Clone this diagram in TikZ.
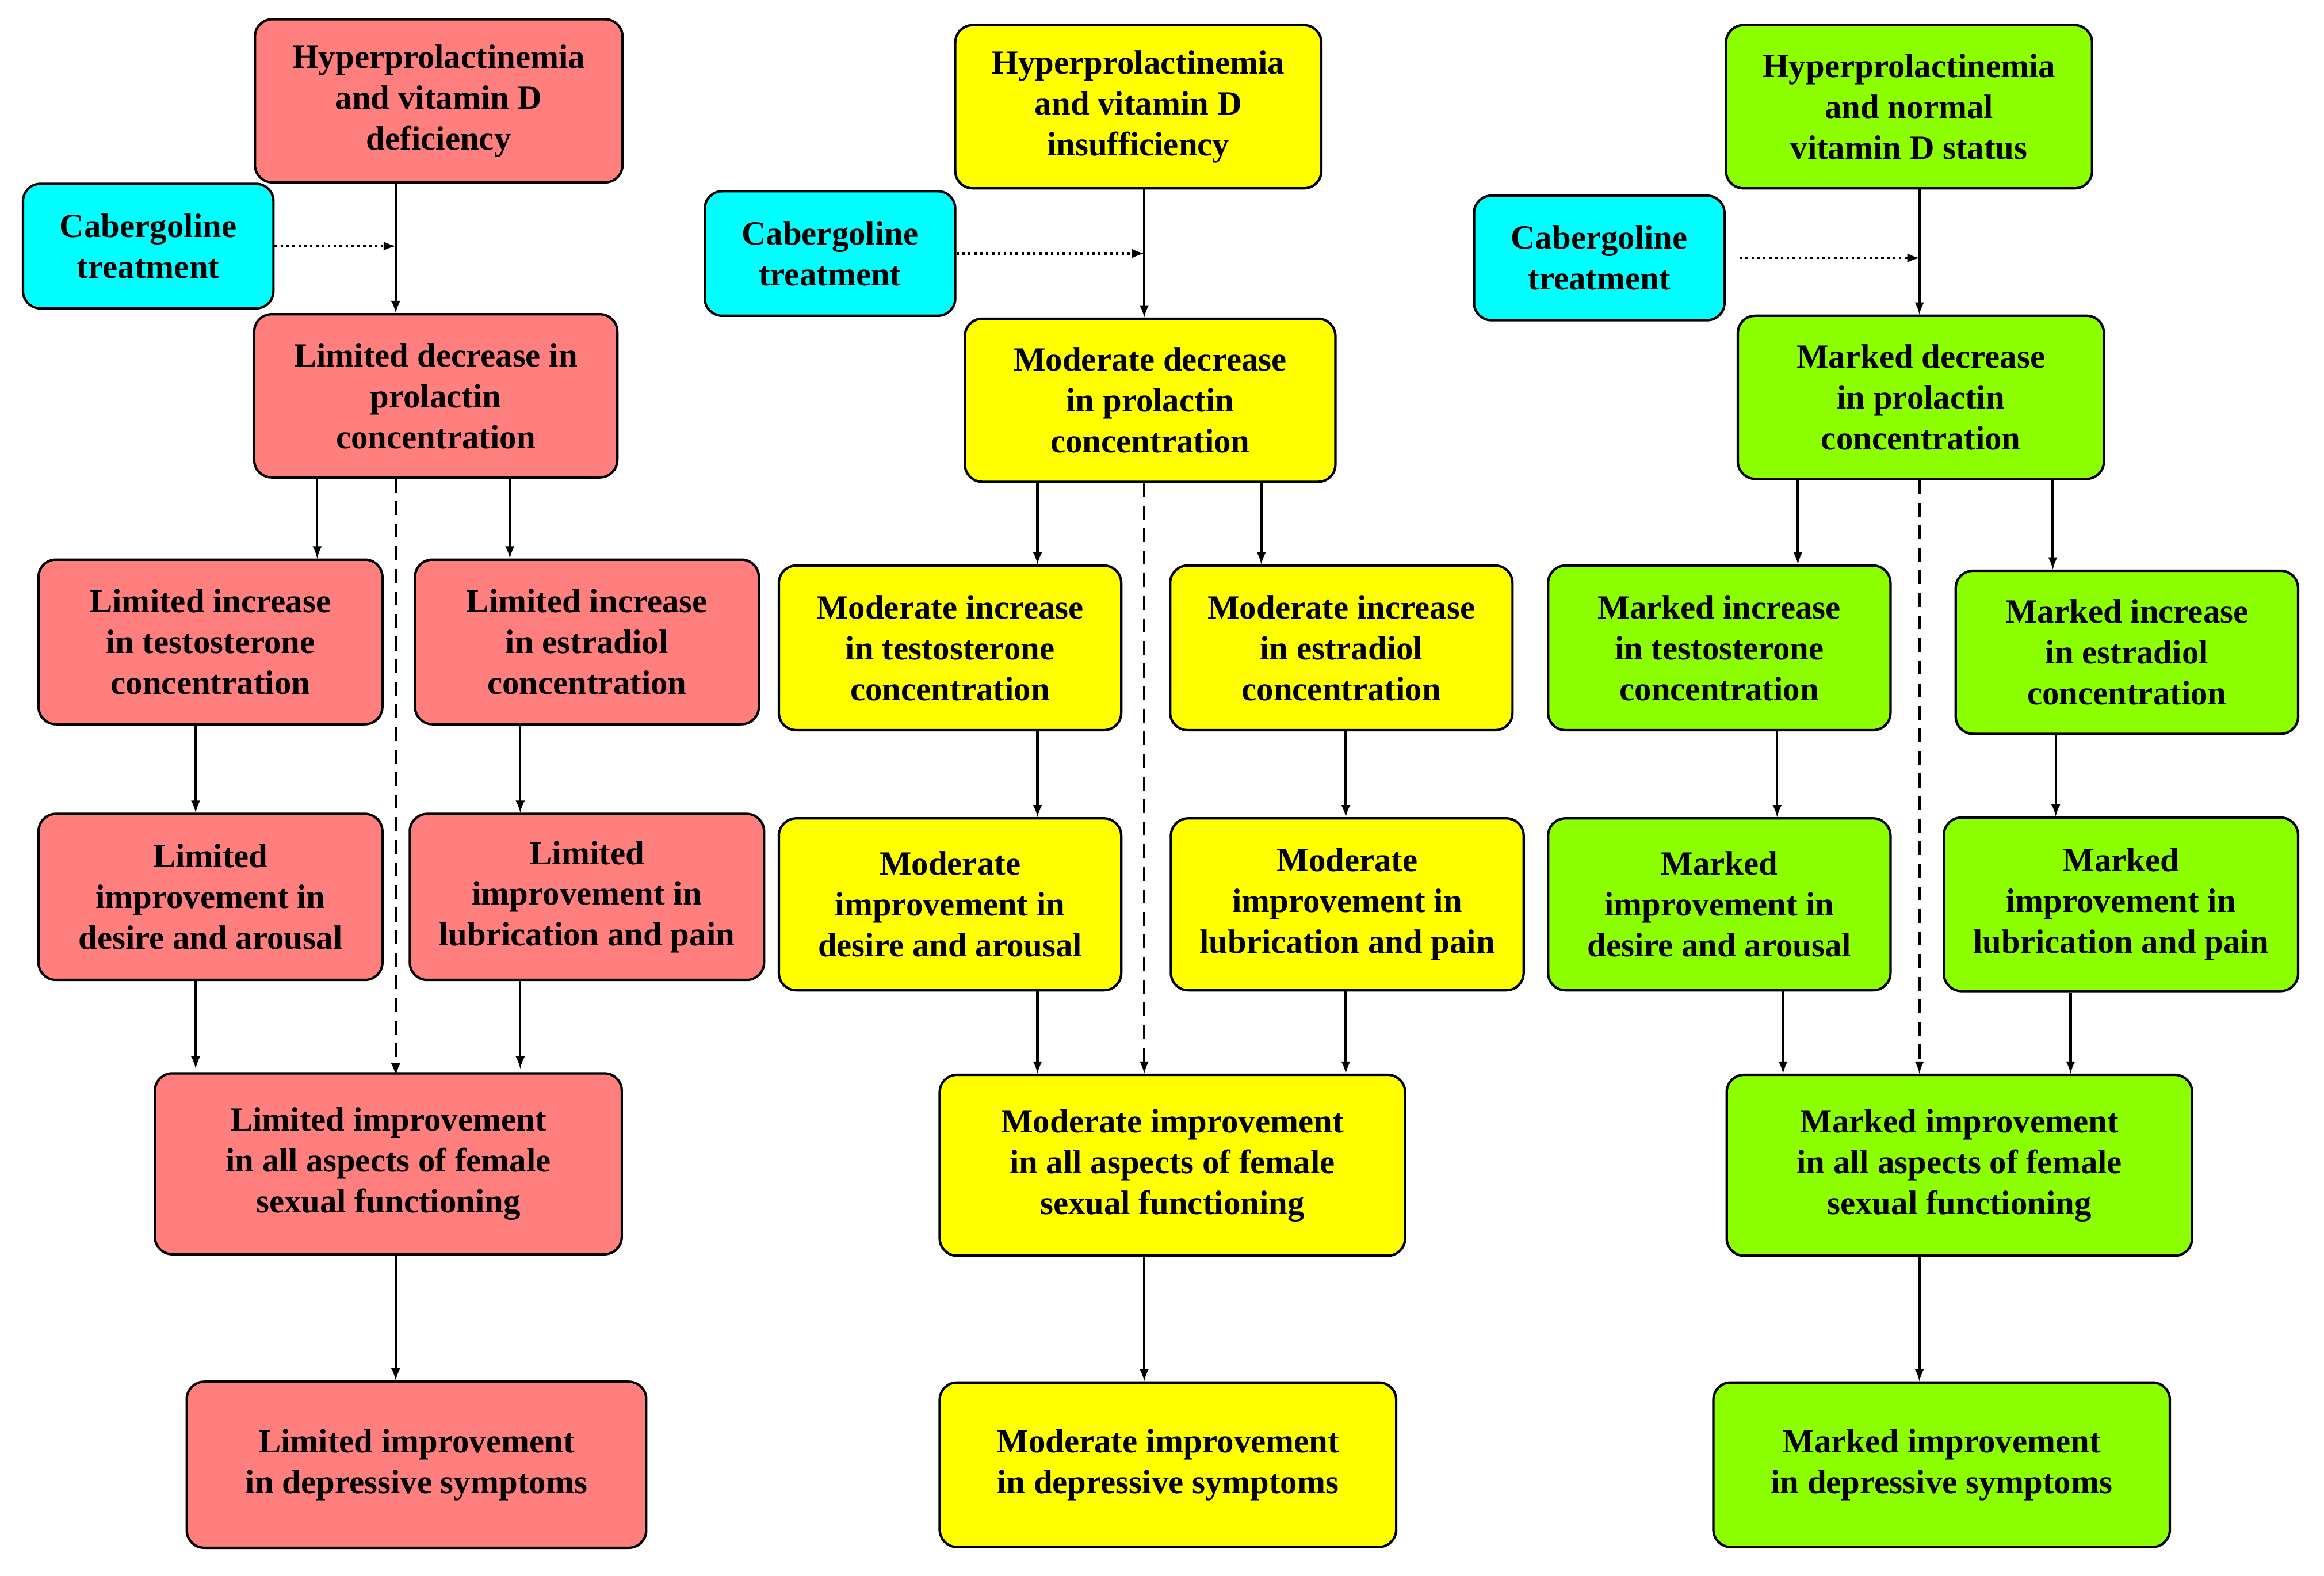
\documentclass[tikz,border=0pt]{standalone}
\usepackage{fontspec}
\setmainfont{Liberation Serif}
\begin{document}
\begin{tikzpicture}[x=0.03cm,y=-0.03cm,
  box/.style={draw=black,line width=1.4pt,rounded corners=10pt,align=center,inner sep=0pt,
    font=\fontsize{19.5}{23.5}\selectfont\bfseries},
  red/.style={box,fill=rd}, yel/.style={box,fill=yl}, grn/.style={box,fill=gn},
  cab/.style={box,fill=cy,minimum width=169*0.03cm,minimum height=84*0.03cm},
  arr/.style={-latex,line width=1.4pt},
  dotarr/.style={-latex,line width=1.4pt,dotted},
  dasharr/.style={-latex,line width=1.4pt,dash pattern=on 8pt off 5pt}]
\definecolor{rd}{HTML}{FF7F7F}\definecolor{yl}{HTML}{FFFF00}
\definecolor{gn}{HTML}{8CFF00}\definecolor{cy}{HTML}{00FFFF}
\useasboundingbox (0,0) rectangle (1568,1063);
\newcommand{\bx}[7]{\node[#1,minimum width=#4*0.03cm,minimum height=#5*0.03cm] (#6) at (#2,#3) {#7};}
% left
\bx{red}{296}{68}{248}{110}{A1}{Hyperprolactinemia\\and vitamin D\\deficiency}
\node[cab] (C1) at (100,166) {Cabergoline\\treatment};
\bx{red}{294}{267}{245}{110}{B1}{Limited decrease in\\prolactin\\concentration}
\bx{red}{142}{433}{232}{111}{T1}{Limited increase\\in testosterone\\concentration}
\bx{red}{396}{433}{232}{111}{E1}{Limited increase\\in estradiol\\concentration}
\bx{red}{142}{605}{232}{112}{D1}{Limited\\improvement in\\desire and arousal}
\bx{red}{396}{605}{239}{112}{L1}{Limited\\improvement in\\lubrication and pain}
\bx{red}{262}{785}{315}{122}{F1}{Limited improvement\\in all aspects of female\\sexual functioning}
\bx{red}{281}{988}{310}{112}{G1}{Limited improvement\\in depressive symptoms}
% middle
\bx{yel}{768}{72}{247}{110}{A2}{Hyperprolactinemia\\and vitamin D\\insufficiency}
\node[cab] (C2) at (560,171) {Cabergoline\\treatment};
\bx{yel}{776}{270}{250}{110}{B2}{Moderate decrease\\in prolactin\\concentration}
\bx{yel}{641}{437}{231}{111}{T2}{Moderate increase\\in testosterone\\concentration}
\bx{yel}{905}{437}{231}{111}{E2}{Moderate increase\\in estradiol\\concentration}
\bx{yel}{641}{610}{231}{116}{D2}{Moderate\\improvement in\\desire and arousal}
\bx{yel}{909}{610}{238}{116}{L2}{Moderate\\improvement in\\lubrication and pain}
\bx{yel}{791}{786}{314}{122}{F2}{Moderate improvement\\in all aspects of female\\sexual functioning}
\bx{yel}{788}{988}{308}{111}{G2}{Moderate improvement\\in depressive symptoms}
% right
\bx{grn}{1288}{72}{247}{110}{A3}{Hyperprolactinemia\\and normal\\vitamin D status}
\node[cab] (C3) at (1079,174) {Cabergoline\\treatment};
\bx{grn}{1296}{268}{247}{110}{B3}{Marked decrease\\in prolactin\\concentration}
\bx{grn}{1160}{437}{231}{111}{T3}{Marked increase\\in testosterone\\concentration}
\bx{grn}{1435}{440}{231}{110}{E3}{Marked increase\\in estradiol\\concentration}
\bx{grn}{1160}{610}{231}{116}{D3}{Marked\\improvement in\\desire and arousal}
\bx{grn}{1431}{610}{239}{117}{L3}{Marked\\improvement in\\lubrication and pain}
\bx{grn}{1322}{786}{314}{122}{F3}{Marked improvement\\in all aspects of female\\sexual functioning}
\bx{grn}{1310}{988}{308}{111}{G3}{Marked improvement\\in depressive symptoms}
% coordinates for arrow x-positions
\foreach \n/\x in {a/267,b/214,c/344,d/132,e/351,
  f/772,g/700,h/851,i/908,
  j/1295,k/1213,l/1385,m/1199,n/1387,o/1203,p/1397}
  \coordinate (x\n) at (\x,0);
% left arrows
\draw[arr] (A1.south -| xa) -- (B1.north -| xa);
\draw[dotarr] (C1.east) -- (C1.east -| xa);
\draw[arr] (B1.south -| xb) -- (T1.north -| xb);
\draw[arr] (B1.south -| xc) -- (E1.north -| xc);
\draw[dasharr] (B1.south -| xa) -- ([yshift=-2pt]F1.north -| xa);
\draw[arr] (T1.south -| xd) -- (D1.north -| xd);
\draw[arr] (E1.south -| xe) -- (L1.north -| xe);
\draw[arr] (D1.south -| xd) -- ([yshift=2pt]F1.north -| xd);
\draw[arr] (L1.south -| xe) -- ([yshift=2pt]F1.north -| xe);
\draw[arr] (F1.south -| xa) -- (G1.north -| xa);
% middle arrows
\draw[arr] (A2.south -| xf) -- (B2.north -| xf);
\draw[dotarr] (C2.east) -- (C2.east -| xf);
\draw[arr] (B2.south -| xg) -- (T2.north -| xg);
\draw[arr] (B2.south -| xh) -- (E2.north -| xh);
\draw[dasharr] (B2.south -| xf) -- (F2.north -| xf);
\draw[arr] (T2.south -| xg) -- (D2.north -| xg);
\draw[arr] (E2.south -| xi) -- (L2.north -| xi);
\draw[arr] (D2.south -| xg) -- (F2.north -| xg);
\draw[arr] (L2.south -| xi) -- (F2.north -| xi);
\draw[arr] (F2.south -| xf) -- (G2.north -| xf);
% right arrows
\draw[arr] (A3.south -| xj) -- (B3.north -| xj);
\draw[dotarr] ([xshift=8pt]C3.east) -- (C3.east -| xj);
\draw[arr] (B3.south -| xk) -- (T3.north -| xk);
\draw[arr] (B3.south -| xl) -- (E3.north -| xl);
\draw[dasharr] (B3.south -| xj) -- (F3.north -| xj);
\draw[arr] (T3.south -| xm) -- (D3.north -| xm);
\draw[arr] (E3.south -| xn) -- (L3.north -| xn);
\draw[arr] (D3.south -| xo) -- (F3.north -| xo);
\draw[arr] (L3.south -| xp) -- (F3.north -| xp);
\draw[arr] (F3.south -| xj) -- (G3.north -| xj);
\end{tikzpicture}
\end{document}
